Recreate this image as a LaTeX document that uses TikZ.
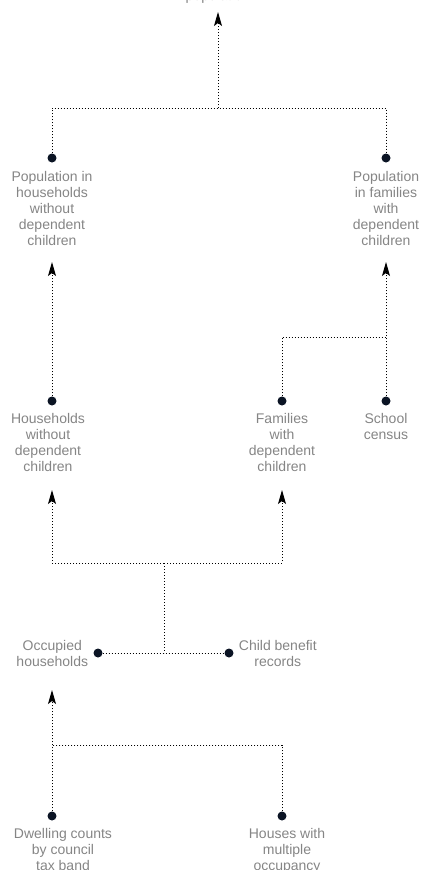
\documentclass[tikz,border=0pt]{standalone}
\usepackage{fontspec}
\setmainfont{Liberation Sans}
\usepackage{tikz}
\usetikzlibrary{arrows.meta,positioning}
\usepackage{xcolor}
\definecolor{dotblue}{HTML}{0B1424}
\definecolor{txtgray}{HTML}{858585}

\tikzset{
  src/.style={circle,fill=dotblue,inner sep=0pt,minimum size=9pt},
  lbl/.style={text=txtgray,align=center,inner sep=0pt,font=\fontsize{14}{16}\selectfont},
  link/.style={dotted,line width=1pt,black},
  up/.style={link,-{Stealth[length=14pt,width=8pt,inset=3pt]}}
}

\begin{document}
\begin{tikzpicture}[x=1pt,y=-1pt]
		\useasboundingbox (0,0) rectangle (422,870);
		% top level
		\node[lbl,anchor=base] (total) at (218,1) {population};
		\coordinate (toptip) at (218,12);
		\coordinate (topj) at (218,108);
		\node[src] (pophh) at (52,158) {};
		\node[src] (popfam) at (386,158) {};
		\node[lbl,below=8.5pt of pophh] (pophhtxt) {Population in\\households\\without\\dependent\\children};
		\node[lbl,below=8.5pt of popfam] (popfamtxt) {Population\\in families\\with\\dependent\\children};
		\draw[link] (pophh.north) |- (topj) -| (popfam.north);
		\draw[up] (topj) -- (toptip);
		% second level
		\coordinate (hhtip) at (52,262);
		\coordinate (famtip) at (386,262);
		\coordinate (schj) at (386,337);
		\node[src] (hh) at (52,401) {};
		\node[src] (fam) at (282,401) {};
		\node[src] (school) at (386,401) {};
		\node[lbl,below=7.5pt of hh,xshift=-4pt] (hhtxt) {Households\\without\\dependent\\children};
		\node[lbl,below=7.5pt of fam] (famtxt) {Families\\with\\dependent\\children};
		\node[lbl,below=7.5pt of school] (schooltxt) {School\\census};
		\draw[up] (hh.north) -- (hhtip);
		\draw[up] (school.north) -- (famtip);
		\draw[link] (fam.north) |- (schj);
		% third level
		\coordinate (hhtip2) at (52,490);
		\coordinate (famtip2) at (282,490);
		\coordinate (midj) at (164,563);
		\node[src] (occ) at (98,653) {};
		\node[src] (ben) at (229,653) {};
		\node[lbl,left=5pt of occ] (occtxt) {Occupied\\households};
		\node[lbl,right=5pt of ben] (bentxt) {Child benefit\\records};
		\draw[up] (midj) -| (hhtip2);
		\draw[up] (midj) -| (famtip2);
		\draw[link] (midj) -- (midj |- occ);
		\draw[link] (occ.east) -- (ben.west);
		% bottom level
		\coordinate (occtip) at (52,690);
		\coordinate (botj) at (52,745);
		\node[src] (dwell) at (52,816) {};
		\node[src] (hmo) at (282,816) {};
		\node[lbl,below=7.5pt of dwell,xshift=11pt] (dwelltxt) {Dwelling counts\\by council\\tax band};
		\node[lbl,below=7.5pt of hmo,xshift=5pt] (hmotxt) {Houses with\\multiple\\occupancy};
		\draw[up] (dwell.north) -- (occtip);
		\draw[link] (hmo.north) |- (botj);
\end{tikzpicture}
\end{document}
